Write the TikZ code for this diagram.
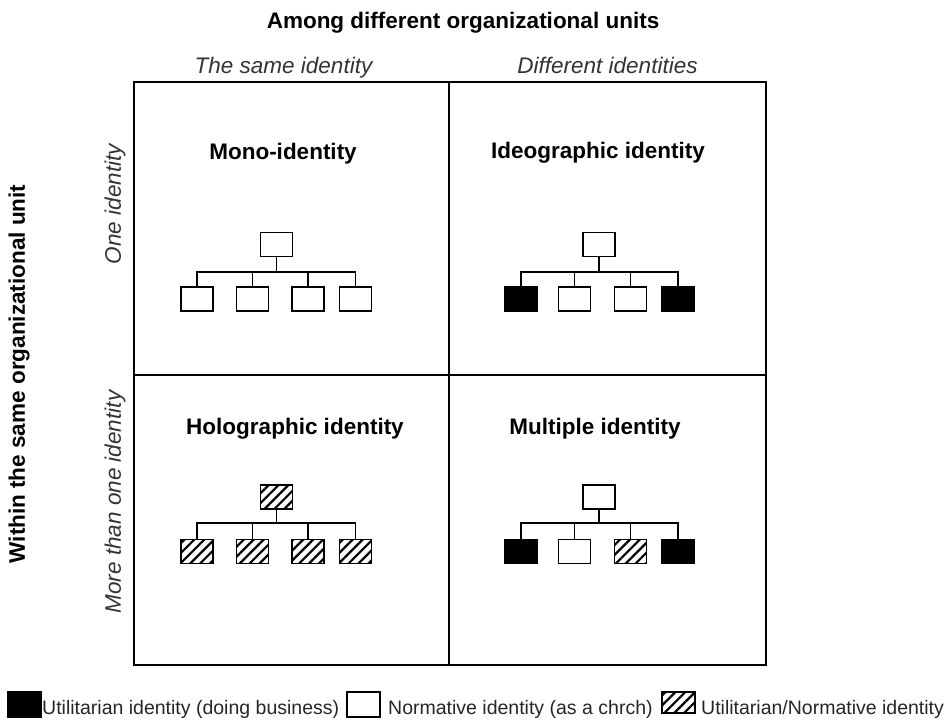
\documentclass[tikz,border=0pt]{standalone}
\usepackage{fontspec}
\setmainfont{Liberation Sans}
\usetikzlibrary{patterns.meta}
\tikzset{
  unit/.style={draw=black, line width=1.4pt, minimum width=32pt, minimum height=24pt, inner sep=0pt},
  wbox/.style={unit, fill=white},
  bbox/.style={unit, fill=black},
  hbox/.style={unit, pattern={Lines[angle=45,distance=7pt,line width=2.2pt]}},
  link/.style={line width=1.4pt},
  frame/.style={line width=1.4pt},
  title/.style={font=\bfseries\fontsize{22.5}{26}\selectfont, inner sep=0pt},
  qtitle/.style={font=\bfseries\fontsize{22.5}{26}\selectfont, inner sep=0pt, anchor=base},
  hdr/.style={font=\itshape\fontsize{22.5}{26}\selectfont, text=black!80, inner sep=0pt},
  leg/.style={font=\fontsize{19.5}{23}\selectfont, anchor=base west, inner sep=0pt, text=black!85},
}
\begin{document}
\begin{tikzpicture}[x=1pt,y=-1pt]
\useasboundingbox (0,0) rectangle (949,724);
% frame
\node[draw, frame, minimum width=632pt, minimum height=583pt, inner sep=0pt] (grid) at (450,373.5) {};
\coordinate (vt) at (449,82);
\coordinate (vb) at (449,665);
\coordinate (hl) at (134,375);
\coordinate (hr) at (766,375);
\draw[frame] (vt) -- (vb);
\draw[frame] (hl) -- (hr);
% headings
\node[title, anchor=base] (main) at (463,28) {Among different organizational units};
\node[hdr, anchor=base] (h1) at (283.5,73) {The same identity};
\node[hdr, anchor=base] (h2) at (607.5,73) {Different identities};
\node[title, rotate=90] (side) at (19,374) {Within the same organizational unit};
\node[hdr, rotate=90] (r1) at (115,204) {One identity};
\node[hdr, rotate=90] (r2) at (115,502) {More than one identity};
% quadrant titles
\node[qtitle] (q1) at (283,159) {Mono-identity};
\node[qtitle] (q2) at (598,158) {Ideographic identity};
\node[qtitle] (q3) at (295,434) {Holographic identity};
\node[qtitle] (q4) at (595,434) {Multiple identity};
% Mono-identity
\node[wbox] (at) at (276.5,244.5) {};
\node[wbox] (a1) at (197,299) {};
\node[wbox] (a2) at (252.5,299) {};
\node[wbox] (a3) at (308,299) {};
\node[wbox] (a4) at (355.5,299) {};
\coordinate (abar) at (0,272);
\draw[link] (at.south) -- (at.south |- abar);
\draw[link] (a1.north) |- (a4.north |- abar) -- (a4.north);
\draw[link] (a2.north) -- (a2.north |- abar);
\draw[link] (a3.north) -- (a3.north |- abar);
% Ideographic identity
\node[wbox] (bt) at (599,244.5) {};
\node[bbox] (b1) at (521,299) {};
\node[wbox] (b2) at (574.5,299) {};
\node[wbox] (b3) at (630.5,299) {};
\node[bbox] (b4) at (678,299) {};
\coordinate (bbar) at (0,272);
\draw[link] (bt.south) -- (bt.south |- bbar);
\draw[link] (b1.north) |- (b4.north |- bbar) -- (b4.north);
\draw[link] (b2.north) -- (b2.north |- bbar);
\draw[link] (b3.north) -- (b3.north |- bbar);
% Holographic identity
\node[hbox] (ct) at (276.5,497) {};
\node[hbox] (c1) at (197,551.5) {};
\node[hbox] (c2) at (252.5,551.5) {};
\node[hbox] (c3) at (308,551.5) {};
\node[hbox] (c4) at (355.5,551.5) {};
\coordinate (cbar) at (0,523);
\draw[link] (ct.south) -- (ct.south |- cbar);
\draw[link] (c1.north) |- (c4.north |- cbar) -- (c4.north);
\draw[link] (c2.north) -- (c2.north |- cbar);
\draw[link] (c3.north) -- (c3.north |- cbar);
% Multiple identity
\node[wbox] (dt) at (599,497) {};
\node[bbox] (d1) at (521,551.5) {};
\node[wbox] (d2) at (574.5,551.5) {};
\node[hbox] (d3) at (630.5,551.5) {};
\node[bbox] (d4) at (678,551.5) {};
\coordinate (dbar) at (0,523);
\draw[link] (dt.south) -- (dt.south |- dbar);
\draw[link] (d1.north) |- (d4.north |- dbar) -- (d4.north);
\draw[link] (d2.north) -- (d2.north |- dbar);
\draw[link] (d3.north) -- (d3.north |- dbar);
% legend
\node[bbox, minimum width=33pt, minimum height=25pt] (l1) at (24.5,704.5) {};
\node[leg] (t1) at (42,714) {Utilitarian identity (doing business)};
\node[wbox, minimum width=33pt, minimum height=25pt] (l2) at (363.5,704.5) {};
\node[leg] (t2) at (388,714) {Normative identity (as a chrch)};
\node[hbox, minimum width=33pt, minimum height=21pt] (l3) at (678.5,702.5) {};
\node[leg] (t3) at (701,714) {Utilitarian/Normative identity};
\end{tikzpicture}
\end{document}
